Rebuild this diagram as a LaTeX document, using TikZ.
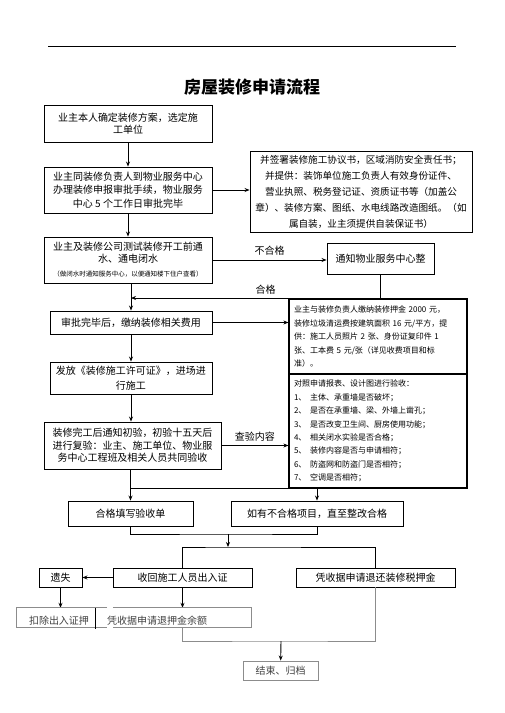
\documentclass[tikz,border=0pt]{standalone}
\usepackage{fontspec}
\setmainfont{Noto Sans CJK SC}
\usetikzlibrary{arrows.meta}

\begin{document}
\begin{tikzpicture}[x=1pt,y=-1pt,every node/.style={inner sep=0pt,align=center,font=\fontsize{10}{13.5}\selectfont},
  box/.style={draw,rectangle,line width=0.9pt},
  pale/.style={draw=black!45,line width=0.9pt},
  arr/.style={-{Stealth[length=5pt,width=4pt]},line width=0.9pt},
  item/.style={text width=168pt,align=left,font=\fontsize{8}{13.4}\selectfont}]
\useasboundingbox (0,0) rectangle (504,713);
\draw[line width=0.8pt] (48,46) -- (456,46);
\node (title) at (252,87) {\fontsize{17}{20}\selectfont\bfseries 房屋装修申请流程};
% left column
\node[box,minimum width=168pt,minimum height=37pt,font=\fontsize{10}{12}\selectfont] (plan) at (128,123.5) {业主本人确定装修方案，选定施\\工单位};
\node[box,minimum width=168pt,minimum height=46pt] (apply) at (128,190) {业主同装修负责人到物业服务中心\\办理装修申报审批手续，物业服务\\中心 5 个工作日审批完毕};
\node[box,minimum width=168pt,minimum height=46pt,font=\fontsize{10}{12}\selectfont] (water) at (128,260) {业主及装修公司测试装修开工前通\\水、通电闭水\\[2pt]{\fontsize{6.5}{8}\selectfont （做闭水时通知服务中心，以便通知楼下住户查看）}};
\node[box,minimum width=162pt,minimum height=23pt] (fees) at (131,322.5) {审批完毕后，缴纳装修相关费用};
\node[box,minimum width=162pt,minimum height=32pt,font=\fontsize{10}{15}\selectfont] (permit) at (131,378) {发放《装修施工许可证》，进场进\\行施工};
\node[box,minimum width=177pt,minimum height=47pt,font=\fontsize{10}{12.5}\selectfont] (finish) at (132.5,445.5) {装修完工后通知初验，初验十五天后\\进行复验：业主、施工单位、物业服\\务中心工程班及相关人员共同验收};
% right column
\node[box,minimum width=222pt,minimum height=81pt,font=\fontsize{9.6}{16}\selectfont] (papers) at (361,191.5) {并签署装修施工协议书，区域消防安全责任书；\\并提供：装饰单位施工负责人有效身份证件、\\营业执照、税务登记证、资质证书等（加盖公\\章）、装修方案、图纸、水电线路改造图纸。（如\\属自装，业主须提供自装保证书）};
\node[box,minimum width=107pt,minimum height=31pt] (notify) at (380.5,258.5) {通知物业服务中心整};
\node[box,item,line width=1.2pt,minimum width=178pt,minimum height=75pt,font=\fontsize{8}{13.5}\selectfont] (deposit) at (378,336.5) {业主与装修负责人缴纳装修押金 2000 元，\\装修垃圾清运费按建筑面积 16 元/平方，提\\供：施工人员照片 2 张、身份证复印件 1\\张、工本费 5 元/张（详见收费项目和标\\准）。};
\node[box,item,line width=1.2pt,minimum width=178pt,minimum height=114pt] (check) at (378,431) {对照申请报表、设计图进行验收：\\
  \makebox[16pt][l]{1、}主体、承重墙是否破坏；\\
  \makebox[16pt][l]{2、}是否在承重墙、梁、外墙上凿孔；\\
  \makebox[16pt][l]{3、}是否改变卫生间、厨房使用功能；\\
  \makebox[16pt][l]{4、}相关闭水实验是否合格；\\
  \makebox[16pt][l]{5、}装修内容是否与申请相符；\\
  \makebox[16pt][l]{6、}防盗网和防盗门是否相符；\\
  \makebox[16pt][l]{7、}空调是否相符；};
% acceptance and closing
\node[box,minimum width=125pt,minimum height=25pt] (pass) at (130.5,513.5) {合格填写验收单};
\node[box,minimum width=172pt,minimum height=25pt] (redo) at (317,513.5) {如有不合格项目，直至整改合格};
\node[box,minimum width=139pt,minimum height=19pt] (passes) at (182.5,577.5) {收回施工人员出入证};
\node[box,minimum width=159pt,minimum height=19pt] (refund) at (375.5,577.5) {凭收据申请退还装修税押金};
\node[box,minimum width=43pt,minimum height=19pt] (lost) at (60.5,577.5) {遗失};
\node[minimum width=90pt,minimum height=19pt] (deduct) at (62,617.5) {};
\node[minimum width=138pt,minimum height=19pt] (balance) at (182,617.5) {};
\node[text=black!75] (deducttext) at (59,621) {扣除出入证押};
\node[text=black!75] (balancetext) at (157,621) {凭收据申请退押金余额};
\node[pale,text=black!75,minimum width=75pt,minimum height=19pt] (done) at (280.5,670.5) {结束、归档};
\coordinate (okjoin) at (131,298);
\coordinate (merge) at (228,534);
\coordinate (fork) at (228,547);
\coordinate (close) at (281,641);

\draw[arr] (plan) -- (apply);
\draw[arr] (apply) -- (water);
\draw[arr] (apply.east) -- (apply.east -| papers.west);
\draw[arr] (water.east) -- node[above=4pt]{不合格} (water.east -| notify.west);
\draw[arr] (notify.south) |- node[pos=0.73,above=3pt]{合格} (okjoin);
\draw[arr] (water.south -| fees.north) -- (fees.north);
\draw[arr] (fees.east) -- (fees.east -| deposit.west);
\draw[arr] (fees) -- (permit);
\draw[arr] (permit.south) -- (permit.south |- finish.north);
\draw[arr] (finish.east) -- node[above=4pt]{查验内容} (finish.east -| check.west);
\draw[arr] (finish.south -| pass.north) -- (pass.north);
\draw[line width=0.9pt] (pass.north |- check.south) -- (check.south east);
\draw[arr] (redo.north |- check.south) -- (redo.north);
\draw[line width=0.9pt] (pass.south) |- (merge) -| (redo.south);
\draw[arr] (merge) -- (fork);
\draw[line width=0.9pt] (passes.north) |- (fork) -| (refund.north);
\draw[arr] (passes.west) -- (lost.east);
\draw[arr] (lost.south) -- (lost.south |- deduct.north);
\draw[arr] (passes.south) -- (passes.south |- balance.north);
\draw[pale] (deduct.north east) -- (deduct.north west) -- (deduct.south west) -- (deduct.south east);
\draw[pale] (balance.north west) -- (balance.north east) -- (balance.south east) -- (balance.south west);
\draw[line width=1.2pt] ([xshift=-12pt]deduct.north east) -- ([xshift=-12pt,yshift=-2pt]deduct.south east);
\draw[pale] (balance.south) |- (close) -| (refund.south);
\draw[arr] (close) -- (done);
\end{tikzpicture}
\end{document}
